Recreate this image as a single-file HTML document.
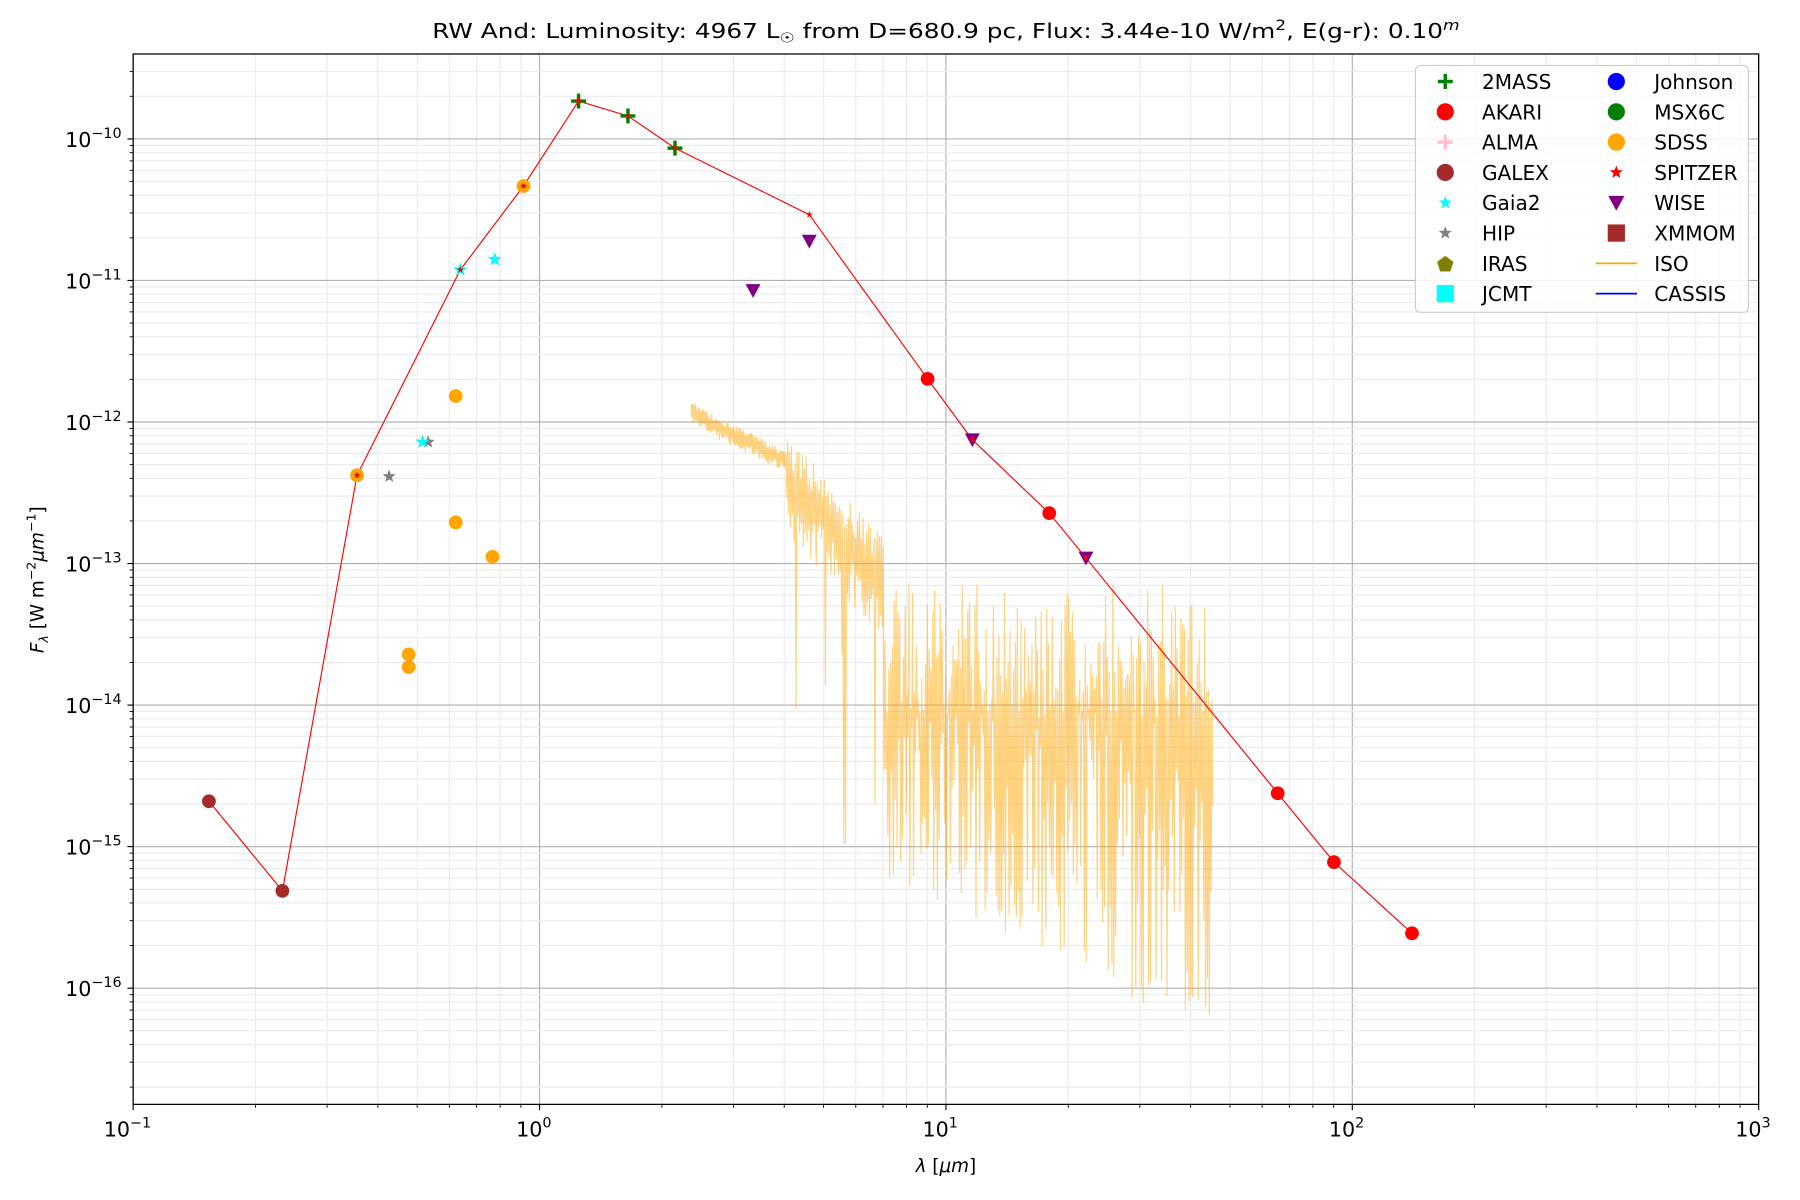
<!DOCTYPE html>
<html><head><meta charset="utf-8">
<style>
html,body{margin:0;padding:0;background:#fff;}
svg{display:block;}
text{font-family:"DejaVu Sans","Liberation Sans",sans-serif;fill:#000;}
</style></head>
<body>
<svg id="s" xmlns="http://www.w3.org/2000/svg" width="1800" height="1200" viewBox="0 0 1568 1045.3">
<rect x="0" y="0" width="1568" height="1046" fill="#fff"/>
<g id="grid"></g>
<g id="iso"></g>
<g id="data"></g>
<rect x="116" y="47" width="1416" height="915" fill="none" stroke="#000" stroke-width="1.1"/>
<g id="ticks"></g>
<text x="824" y="33" font-size="17.5" text-anchor="middle" textLength="895" lengthAdjust="spacingAndGlyphs">RW And:  Luminosity: 4967 L<tspan font-size="12" dy="4">☉</tspan><tspan dy="-4"> from D=680.9 pc, Flux: 3.44e-10 W/m</tspan><tspan font-size="12" dy="-7">2</tspan><tspan dy="7">, E(g-r): 0.10</tspan><tspan font-size="12" dy="-7" font-style="italic">m</tspan></text>
<text x="824" y="1021" font-size="16" text-anchor="middle"><tspan font-style="italic">λ</tspan> [<tspan font-style="italic">μm</tspan>]</text>
<text transform="translate(38,505) rotate(-90)" font-size="16" text-anchor="middle"><tspan font-style="italic">F</tspan><tspan font-style="italic" font-size="11" dy="4">λ</tspan><tspan dy="-4"> [W m</tspan><tspan font-size="11" dy="-7">−2</tspan><tspan dy="7" font-style="italic">μm</tspan><tspan font-size="11" dy="-7">−1</tspan><tspan dy="7">]</tspan></text>
<g id="legend">
<rect x="1233" y="57" width="290" height="215" rx="4" fill="#fff" fill-opacity="0.85" stroke="#ccc" stroke-width="1"/>
</g>
</svg>
<script>
(function(){
var NS="http://www.w3.org/2000/svg";
function el(p,t,a,txt){var e=document.createElementNS(NS,t);for(var k in a)e.setAttribute(k,a[k]);if(txt!=null)e.textContent=txt;document.getElementById(p).appendChild(e);return e;}
var L=116,R=1532,T=47,B=962,DX=354,Y10=121,DY=123.3;
function X(l){return L+(l+1)*DX;}
function Y(l){return Y10+(-10-l)*DY;}
for(var d=-1;d<=3;d++){for(var m=1;m<10;m++){var lx=d+Math.log10(m);if(lx>3)break;var x=X(lx);
 if(m==1){el("grid","line",{x1:x,y1:T,x2:x,y2:B,stroke:"#b0b0b0","stroke-width":1});el("ticks","line",{x1:x,y1:B,x2:x,y2:B+5,stroke:"#000","stroke-width":1});
 var t=el("ticks","text",{x:x-5,y:B+28,"font-size":18,"text-anchor":"middle"},"10");var s=document.createElementNS(NS,"tspan");s.setAttribute("font-size","12.5");s.setAttribute("dy","-8");s.textContent=(d<0?"−":"")+Math.abs(d);t.appendChild(s);}
 else{el("grid","line",{x1:x,y1:T,x2:x,y2:B,stroke:"#ebebeb","stroke-width":1});el("ticks","line",{x1:x,y1:B,x2:x,y2:B+3,stroke:"#000","stroke-width":0.8});}}}
for(var d=-17;d<=-9;d++){for(var m=1;m<10;m++){var ly=d+Math.log10(m);var y=Y(ly);if(y<T||y>B)continue;
 if(m==1){el("grid","line",{x1:L,y1:y,x2:R,y2:y,stroke:"#b0b0b0","stroke-width":1});el("ticks","line",{x1:L-5,y1:y,x2:L,y2:y,stroke:"#000","stroke-width":1});
 var t=el("ticks","text",{x:106,y:y+7,"font-size":18,"text-anchor":"end"},"10");var s=document.createElementNS(NS,"tspan");s.setAttribute("font-size","12.5");s.setAttribute("dy","-8");s.textContent="−"+Math.abs(d);t.appendChild(s);}
 else{el("grid","line",{x1:L,y1:y,x2:R,y2:y,stroke:"#ebebeb","stroke-width":1});el("ticks","line",{x1:L-3,y1:y,x2:L,y2:y,stroke:"#000","stroke-width":0.8});}}}
var seed=12345;function rnd(){seed=(seed*16807)%2147483647;return seed/2147483647;}
var pts=[];var up=true;
for(var x=602;x<=1057;x+=(x<685?0.6:0.8)){var tp,bt;
 if(x<685){var c=360+(x-602)*0.5;tp=c-3-rnd()*6;bt=c+3+rnd()*8;if(x<606){tp=352;}}
 else if(x<770){var c=420+(x-685)*1.1;tp=c-15-rnd()*30;bt=c+5+rnd()*40;if(rnd()<0.05)bt=c+80+rnd()*150;if(Math.abs(x-736)<1.2)bt=735;}
 else{tp=525+rnd()*100;if(rnd()<0.08)tp=505+rnd()*20;var lb=765+(x-770)*0.45;bt=620+rnd()*(lb-620);if(rnd()<0.12)bt=lb-rnd()*20;
  if(x>975&&x<1000&&rnd()<0.3)bt=820+rnd()*100;if(x>1040&&x<1052&&rnd()<0.3)bt=820+rnd()*80;if(x>1050){tp=560+rnd()*60;}
  if(x>975&&x<985)tp=540+rnd()*60;}
 pts.push(x.toFixed(1)+","+(up?tp:bt).toFixed(1));up=!up;}
el("iso","polyline",{points:pts.join(" "),fill:"none",stroke:"#ffa500","stroke-opacity":0.5,"stroke-width":1});
var line=[[182,698],[246,776],[311,414],[401,235],[456,162],[504,88],[547,101],[588,129],[705,187],[808,330],[847,383],[914,447],[946,486],[1113,691],[1162,751],[1230,813]];
el("data","polyline",{points:line.map(function(p){return p.join(",")}).join(" "),fill:"none",stroke:"#f00","stroke-width":1});
function circ(x,y,c){el("data","circle",{cx:x,cy:y,r:6,fill:c});}
function star(p,x,y,r,c){var s="";for(var i=0;i<10;i++){var a=-Math.PI/2+i*Math.PI/5;var rr=i%2?r*0.42:r;s+=(x+rr*Math.cos(a)).toFixed(2)+","+(y+rr*Math.sin(a)).toFixed(2)+" ";}el(p,"polygon",{points:s,fill:c});}
function tri(p,x,y,c){el(p,"polygon",{points:(x-6.5)+","+(y-5.5)+" "+(x+6.5)+","+(y-5.5)+" "+x+","+(y+6.5),fill:c});}
function plus(p,x,y,c){el(p,"path",{d:"M"+(x-6.5)+" "+y+"H"+(x+6.5)+"M"+x+" "+(y-6.5)+"V"+(y+6.5),stroke:c,"stroke-width":3,fill:"none"});}
circ(182,698,"#a52a2a");circ(246,776,"#a52a2a");
[[311,414],[456,162],[397,345],[397,455],[429,485],[356,570],[356,581]].forEach(function(p){circ(p[0],p[1],"#ffa500");});
[[504,88],[547,101],[588,129]].forEach(function(p){plus("data",p[0],p[1],"#008000");});
[[339,415],[373,385]].forEach(function(p){star("data",p[0],p[1],6,"#808080");});
[[401,235],[431,226],[368,385]].forEach(function(p){star("data",p[0],p[1],6.5,"#00ffff");});
[[656,253],[705,210],[847,383],[946,486]].forEach(function(p){tri("data",p[0],p[1],"#800080");});
[[808,330],[914,447],[1113,691],[1162,751],[1230,813]].forEach(function(p){circ(p[0],p[1],"#f00");});
[[705,187],[401,235],[311,414],[456,162],[588,129],[504,88],[547,101],[847,383],[946,486]].forEach(function(p){star("data",p[0],p[1],3.2,"#f00");});
var ys=[71,97.4,123.8,150.2,176.6,203,229.4,255.8];
var c1=["2MASS","AKARI","ALMA","GALEX","Gaia2","HIP","IRAS","JCMT"],c2=["Johnson","MSX6C","SDSS","SPITZER","WISE","XMMOM","ISO","CASSIS"];
for(var i=0;i<8;i++){el("legend","text",{x:1291,y:ys[i]+6.5,"font-size":17.5},c1[i]);el("legend","text",{x:1441,y:ys[i]+6.5,"font-size":17.5},c2[i]);}
var mx=1259,nx=1408;
plus("legend",mx,ys[0],"#008000");el("legend","circle",{cx:mx,cy:ys[1],r:7.5,fill:"#f00"});plus("legend",mx,ys[2],"#ffc0cb");
el("legend","circle",{cx:mx,cy:ys[3],r:7.5,fill:"#a52a2a"});star("legend",mx,ys[4],6,"#00ffff");star("legend",mx,ys[5],6,"#808080");
var pg="";for(var i=0;i<5;i++){var a=-Math.PI/2+i*2*Math.PI/5;pg+=(mx+7.5*Math.cos(a)).toFixed(2)+","+(ys[6]+1+7.5*Math.sin(a)).toFixed(2)+" ";}el("legend","polygon",{points:pg,fill:"#808000"});
el("legend","rect",{x:mx-7.5,y:ys[7]-7.5,width:15,height:15,fill:"#00ffff"});
el("legend","circle",{cx:nx,cy:ys[0],r:7.5,fill:"#00f"});el("legend","circle",{cx:nx,cy:ys[1],r:7.5,fill:"#008000"});el("legend","circle",{cx:nx,cy:ys[2],r:7.5,fill:"#ffa500"});
star("legend",nx,ys[3],6,"#f00");el("legend","polygon",{points:(nx-7)+","+(ys[4]-6)+" "+(nx+7)+","+(ys[4]-6)+" "+nx+","+(ys[4]+7),fill:"#800080"});
el("legend","rect",{x:nx-7.5,y:ys[5]-7.5,width:15,height:15,fill:"#a52a2a"});
el("legend","line",{x1:1390,y1:ys[6],x2:1426,y2:ys[6],stroke:"#ffa500","stroke-width":1.5});
el("legend","line",{x1:1390,y1:ys[7],x2:1426,y2:ys[7],stroke:"#00f","stroke-width":1.5});
})();
</script>
</body></html>
